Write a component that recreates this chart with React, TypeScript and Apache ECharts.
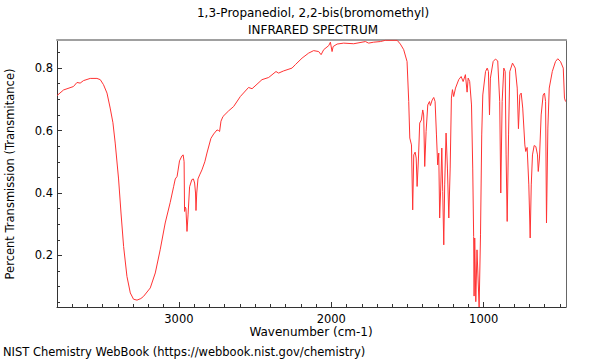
import React, { useEffect, useRef } from "react";
import * as echarts from "echarts";

const titleLine1 = "1,3-Propanediol, 2,2-bis(bromomethyl)";
const titleLine2 = "INFRARED SPECTRUM";
const xAxisTitle = "Wavenumber (cm-1)";
const yAxisTitle = "Percent Transmission (Transmitance)";
const footer = "NIST Chemistry WebBook (https://webbook.nist.gov/chemistry)";

const wavenumbers = [
  3800, 3757, 3692, 3669, 3648, 3626, 3582, 3538, 3516, 3495, 3472, 3451, 3433, 3418, 3396, 3380, 3363, 3341, 3319, 3298,
  3275, 3250, 3232, 3188, 3155, 3123, 3090, 3057, 3035, 3024, 3012, 2996, 2980, 2972, 2966, 2963, 2958, 2954, 2947, 2940,
  2930, 2915, 2905, 2897, 2891, 2888, 2883, 2875, 2864, 2849, 2830, 2816, 2790, 2772, 2750, 2740, 2733, 2724, 2711, 2674,
  2641, 2597, 2543, 2520, 2455, 2411, 2363, 2346, 2313, 2258, 2236, 2192, 2149, 2116, 2083, 2067, 2050, 2017, 2006, 1995,
  1988, 1962, 1919, 1853, 1776, 1755, 1722, 1678, 1645, 1568, 1547, 1525, 1503, 1492, 1485, 1474, 1466, 1459, 1450, 1443,
  1437, 1428, 1420, 1409, 1400, 1394, 1387, 1378, 1367, 1356, 1350, 1338, 1328, 1319, 1310, 1302, 1295, 1289, 1282, 1275,
  1269, 1262, 1256, 1247, 1238, 1229, 1220, 1212, 1205, 1197, 1185, 1164, 1148, 1135, 1120, 1109, 1102, 1092, 1080, 1072,
  1066, 1063, 1059, 1052, 1044, 1030, 1021, 1013, 1006, 988, 977, 969, 962, 956, 938, 923, 908, 895, 888, 879,
  868, 859, 853, 846, 837, 829, 811, 793, 780, 772, 763, 754, 744, 730, 724, 715, 704, 695, 688, 680,
  669, 658, 647, 642, 634, 623, 610, 601, 594, 588, 579, 570, 550, 529, 514, 496, 478, 470, 463,
];

const transmittance = [
  0.712, 0.73, 0.741, 0.754, 0.752, 0.76, 0.767, 0.767, 0.763, 0.747, 0.72, 0.672, 0.625, 0.56, 0.445, 0.336, 0.229, 0.133, 0.08, 0.06,
  0.057, 0.062, 0.069, 0.096, 0.144, 0.218, 0.304, 0.37, 0.42, 0.445, 0.453, 0.503, 0.519, 0.522, 0.5, 0.341, 0.355, 0.35, 0.277, 0.33,
  0.42, 0.443, 0.445, 0.432, 0.4, 0.344, 0.4, 0.445, 0.458, 0.474, 0.5, 0.528, 0.575, 0.589, 0.602, 0.6, 0.597, 0.63, 0.645, 0.663,
  0.677, 0.709, 0.738, 0.734, 0.763, 0.77, 0.789, 0.784, 0.791, 0.8, 0.811, 0.832, 0.848, 0.856, 0.853, 0.843, 0.859, 0.872, 0.883, 0.853,
  0.869, 0.877, 0.88, 0.878, 0.885, 0.88, 0.883, 0.885, 0.889, 0.889, 0.877, 0.859, 0.821, 0.693, 0.576, 0.554, 0.346, 0.522, 0.531, 0.512,
  0.421, 0.512, 0.624, 0.634, 0.666, 0.65, 0.485, 0.597, 0.682, 0.693, 0.68, 0.698, 0.706, 0.693, 0.586, 0.49, 0.528, 0.32, 0.416, 0.544,
  0.405, 0.234, 0.426, 0.592, 0.48, 0.32, 0.48, 0.704, 0.731, 0.709, 0.736, 0.763, 0.773, 0.757, 0.779, 0.723, 0.768, 0.757, 0.682, 0.48,
  0.261, 0.07, 0.256, 0.052, 0.218, 0.035, 0.266, 0.586, 0.714, 0.789, 0.8, 0.789, 0.65, 0.768, 0.821, 0.829, 0.823, 0.693, 0.4, 0.693,
  0.8, 0.789, 0.522, 0.309, 0.586, 0.789, 0.816, 0.8, 0.736, 0.606, 0.714, 0.72, 0.672, 0.554, 0.533, 0.546, 0.426, 0.256, 0.426, 0.522,
  0.552, 0.549, 0.522, 0.469, 0.512, 0.65, 0.714, 0.72, 0.693, 0.304, 0.608, 0.736, 0.789, 0.821, 0.83, 0.821, 0.8, 0.704, 0.693,
];

const xMajorTicks = [1000, 2000, 3000];
const xMinorTicks = [500, 600, 700, 800, 900, 1100, 1200, 1300, 1400, 1500, 1600, 1700, 1800, 1900, 2100, 2200, 2300, 2400, 2500, 2600, 2700, 2800, 2900, 3100, 3200, 3300, 3400, 3500, 3600, 3700];
const yMajorTicks = [0.2, 0.4, 0.6, 0.8];
const yMinorTicks = [0.05, 0.1, 0.15, 0.25, 0.3, 0.35, 0.45, 0.5, 0.55, 0.65, 0.7, 0.75, 0.85];

const X_MIN = 460;
const X_MAX = 3800;
const Y_MIN = 0.035;
const Y_MAX = 0.89;

const FONT = "DejaVu Sans";

export default function App() {
  const ref = useRef<HTMLDivElement>(null);
  useEffect(() => {
    if (!ref.current) return;
    const chart = echarts.init(ref.current, null, { renderer: "svg" });
    const data = wavenumbers.map((w, i) => [w, transmittance[i]]);
    const axisCol = "#333";
    const baseX = { type: "value", min: X_MIN, max: X_MAX, inverse: true, splitLine: { show: false } };
    const baseY = { type: "value", min: Y_MIN, max: Y_MAX, splitLine: { show: false } };
    chart.setOption({
      animation: false,
      grid: { left: 57, right: 34, top: 40, bottom: 53 },
      xAxis: [
        {
          ...baseX,
          position: "bottom",
          axisLine: { show: true, onZero: false, lineStyle: { color: axisCol, width: 1 } },
          axisTick: { show: true, inside: true, length: 5, customValues: xMajorTicks, lineStyle: { color: axisCol } },
          axisLabel: {
            show: true,
            customValues: xMajorTicks,
            color: "#000",
            fontFamily: FONT,
            fontSize: 11.5,
            margin: 6,
            formatter: (v: number) => String(v),
          },
        },
        {
          ...baseX,
          position: "bottom",
          axisLine: { show: false, onZero: false },
          axisTick: { show: true, inside: true, length: 3, customValues: xMinorTicks, lineStyle: { color: axisCol } },
          axisLabel: { show: false },
        },
        {
          ...baseX,
          position: "top",
          axisLine: { show: true, onZero: false, lineStyle: { color: "#a0a0a0", width: 2 } },
          axisTick: { show: false },
          axisLabel: { show: false },
        },
      ],
      yAxis: [
        {
          ...baseY,
          position: "left",
          axisLine: { show: true, onZero: false, lineStyle: { color: axisCol, width: 1 } },
          axisTick: { show: true, inside: true, length: 5, customValues: yMajorTicks, lineStyle: { color: axisCol } },
          axisLabel: {
            show: true,
            customValues: yMajorTicks,
            color: "#000",
            fontFamily: FONT,
            fontSize: 11.5,
            margin: 4,
            formatter: (v: number) => v.toFixed(1),
          },
        },
        {
          ...baseY,
          position: "left",
          axisLine: { show: false, onZero: false },
          axisTick: { show: true, inside: true, length: 3, customValues: yMinorTicks, lineStyle: { color: axisCol } },
          axisLabel: { show: false },
        },
        {
          ...baseY,
          position: "right",
          axisLine: { show: true, onZero: false, lineStyle: { color: "#666", width: 1 } },
          axisTick: { show: false },
          axisLabel: { show: false },
        },
      ],
      series: [
        {
          type: "line",
          xAxisIndex: 0,
          yAxisIndex: 0,
          data,
          showSymbol: false,
          symbol: "none",
          lineStyle: { color: "#ff3333", width: 1 },
          clip: true,
        },
      ],
      graphic: [
        { type: "text", x: 313, y: 13, style: { text: titleLine1, align: "center", verticalAlign: "middle", font: `12px "${FONT}"`, fill: "#000" } },
        { type: "text", x: 313, y: 30, style: { text: titleLine2, align: "center", verticalAlign: "middle", font: `12px "${FONT}"`, fill: "#000" } },
        { type: "text", x: 311, y: 332, style: { text: xAxisTitle, align: "center", verticalAlign: "middle", font: `12px "${FONT}"`, fill: "#000" } },
        {
          type: "text",
          x: 10,
          y: 174,
          rotation: Math.PI / 2,
          style: { text: yAxisTitle, align: "center", verticalAlign: "middle", font: `11.5px "${FONT}"`, fill: "#000" },
        },
        { type: "text", x: 3, y: 352, style: { text: footer, align: "left", verticalAlign: "middle", font: `11.5px "${FONT}"`, fill: "#000" } },
      ],
    });
    return () => chart.dispose();
  }, []);
  return <div ref={ref} style={{ width: 600, height: 360, position: "absolute", left: 0, top: 0 }} />;
}
